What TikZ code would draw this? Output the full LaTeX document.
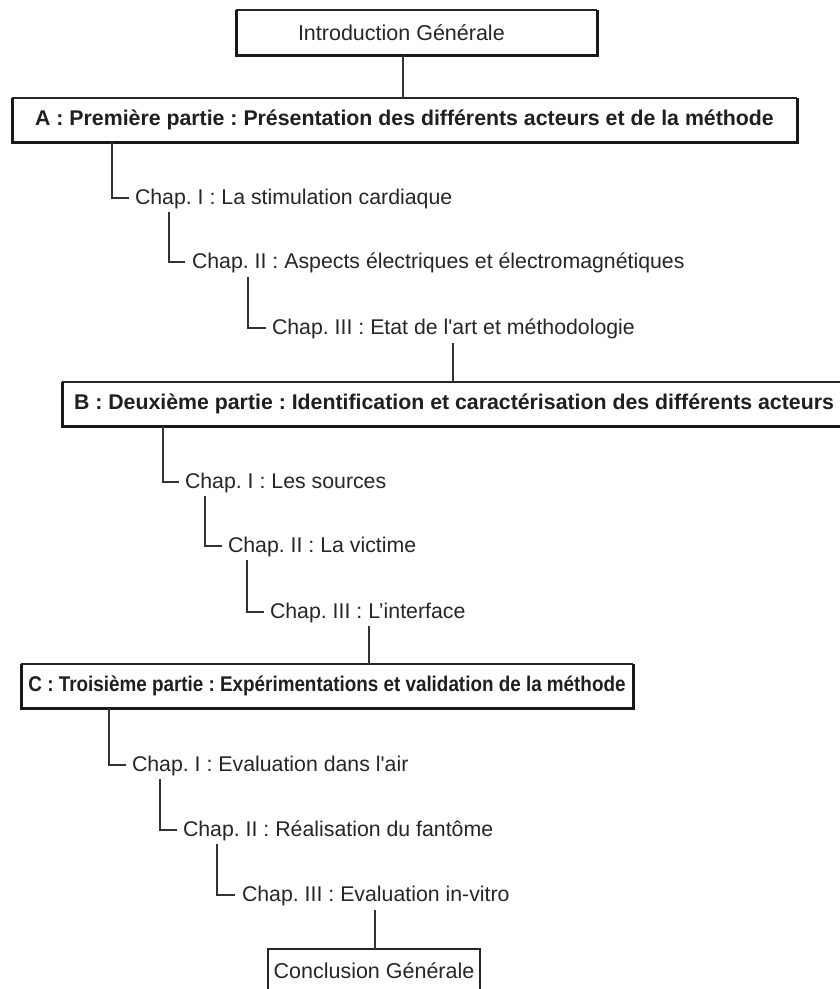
\documentclass[tikz,border=0pt]{standalone}
\usepackage{fontspec}
\newfontfamily\hv{Liberation Sans}
\usetikzlibrary{calc}
\begin{document}
\frenchspacing
\begin{tikzpicture}[x=1pt,y=-1pt,
  headbox/.style={draw=none, inner sep=0pt, outer sep=0pt, minimum height=44pt,
    font=\hv\bfseries\fontsize{21.3}{25}\selectfont, text=black!88},
  plainbox/.style={draw=none, inner sep=0pt, outer sep=0pt, minimum height=45pt,
    font=\hv\fontsize{21.5}{25}\selectfont, text=black!85},
  plaintext/.style={inner sep=0pt, outer sep=0pt,
    font=\hv\fontsize{21.5}{25}\selectfont, text=black!85},
  chap/.style={inner sep=0pt, outer sep=0pt, anchor=base west,
    font=\hv\fontsize{21.3}{25}\selectfont, text=black!85},
  link/.style={draw=black!80, line width=1.1pt},
  thinedge/.style={draw=black!85, line width=1.1pt},
  heavyedge/.style={draw=black!90, line width=3pt, line join=miter},
]
\useasboundingbox (0,0) rectangle (840,989);
\clip (0,0) rectangle (840,989);
\fill[white] (0,0) rectangle (840,989);

% boxes
\node[plainbox, minimum width=361pt] (intro) at (416.5,32.5) {};
\node[plaintext, anchor=west] (introtxt) at ([xshift=62pt]intro.west) {Introduction Générale};
\node[headbox, minimum width=785pt] (A) at (404.5,120) {A : Première partie : Présentation des différents acteurs et de la méthode};
\node[headbox, minimum width=784pt] (B) at (454,404) {B : Deuxième partie : Identification et caractérisation des différents acteurs};
\node[headbox, minimum width=612pt] (C) at (327,686) {\scalebox{0.885}[1]{C : Troisième partie : Expérimentations et validation de la méthode}};
\node[plainbox, minimum width=212pt, minimum height=44pt] (concl) at (374,971) {Conclusion Générale};

\foreach \b in {intro,A,C}{
  \draw[thinedge] (\b.north west) -- (\b.north east);
  \draw[heavyedge] (\b.north west) |- (\b.south east) -- (\b.north east);
}
\draw[thinedge] (B.north west) -- (B.north east);
\draw[heavyedge] (B.north west) |- (B.south east);
\draw[thinedge] (concl.south west) |- (concl.north east) -- (concl.south east);

% chapters
\node[chap] (a1) at (135,204) {Chap. I : La stimulation cardiaque};
\node[chap] (a2) at (192,268) {Chap. II : Aspects électriques et électromagnétiques};
\node[chap] (a3) at (272,334) {Chap. III : Etat de l'art et méthodologie};
\node[chap] (b1) at (185,488) {Chap. I : Les sources};
\node[chap] (b2) at (228,552) {Chap. II : La victime};
\node[chap] (b3) at (270,618) {Chap. III : L’interface};
\node[chap] (c1) at (132,771) {Chap. I : Evaluation dans l'air};
\node[chap] (c2) at (183,836) {Chap. II : Réalisation du fantôme};
\node[chap] (c3) at (242,901) {Chap. III : Evaluation in-vitro};

% connectors
\draw[link] ([xshift=167pt]intro.south west) coordinate (p0) -- (p0 |- A.north);

\draw[link] ([xshift=100pt]A.south west) |- ($(a1.base west)+(-6,-6)$);
\draw[link] ($(a1.base west)+(34,8)$) |- ($(a2.base west)+(-7,-6)$);
\draw[link] ($(a2.base west)+(56,9)$) |- ($(a3.base west)+(-6,-6)$);
\draw[link] ($(a3.base west)+(181,9)$) coordinate (p1) -- (p1 |- B.north);

\draw[link] ([xshift=101pt]B.south west) |- ($(b1.base west)+(-6,-6)$);
\draw[link] ($(b1.base west)+(20,8)$) |- ($(b2.base west)+(-6,-6)$);
\draw[link] ($(b2.base west)+(19,8)$) |- ($(b3.base west)+(-6,-6)$);
\draw[link] ($(b3.base west)+(99,8)$) coordinate (p2) -- (p2 |- C.north);

\draw[link] ([xshift=88pt]C.south west) |- ($(c1.base west)+(-6,-6)$);
\draw[link] ($(c1.base west)+(28,8)$) |- ($(c2.base west)+(-6,-6)$);
\draw[link] ($(c2.base west)+(34,8)$) |- ($(c3.base west)+(-7,-6)$);
\draw[link] ($(c3.base west)+(133,9)$) coordinate (p3) -- (p3 |- concl.north);
\end{tikzpicture}
\end{document}
